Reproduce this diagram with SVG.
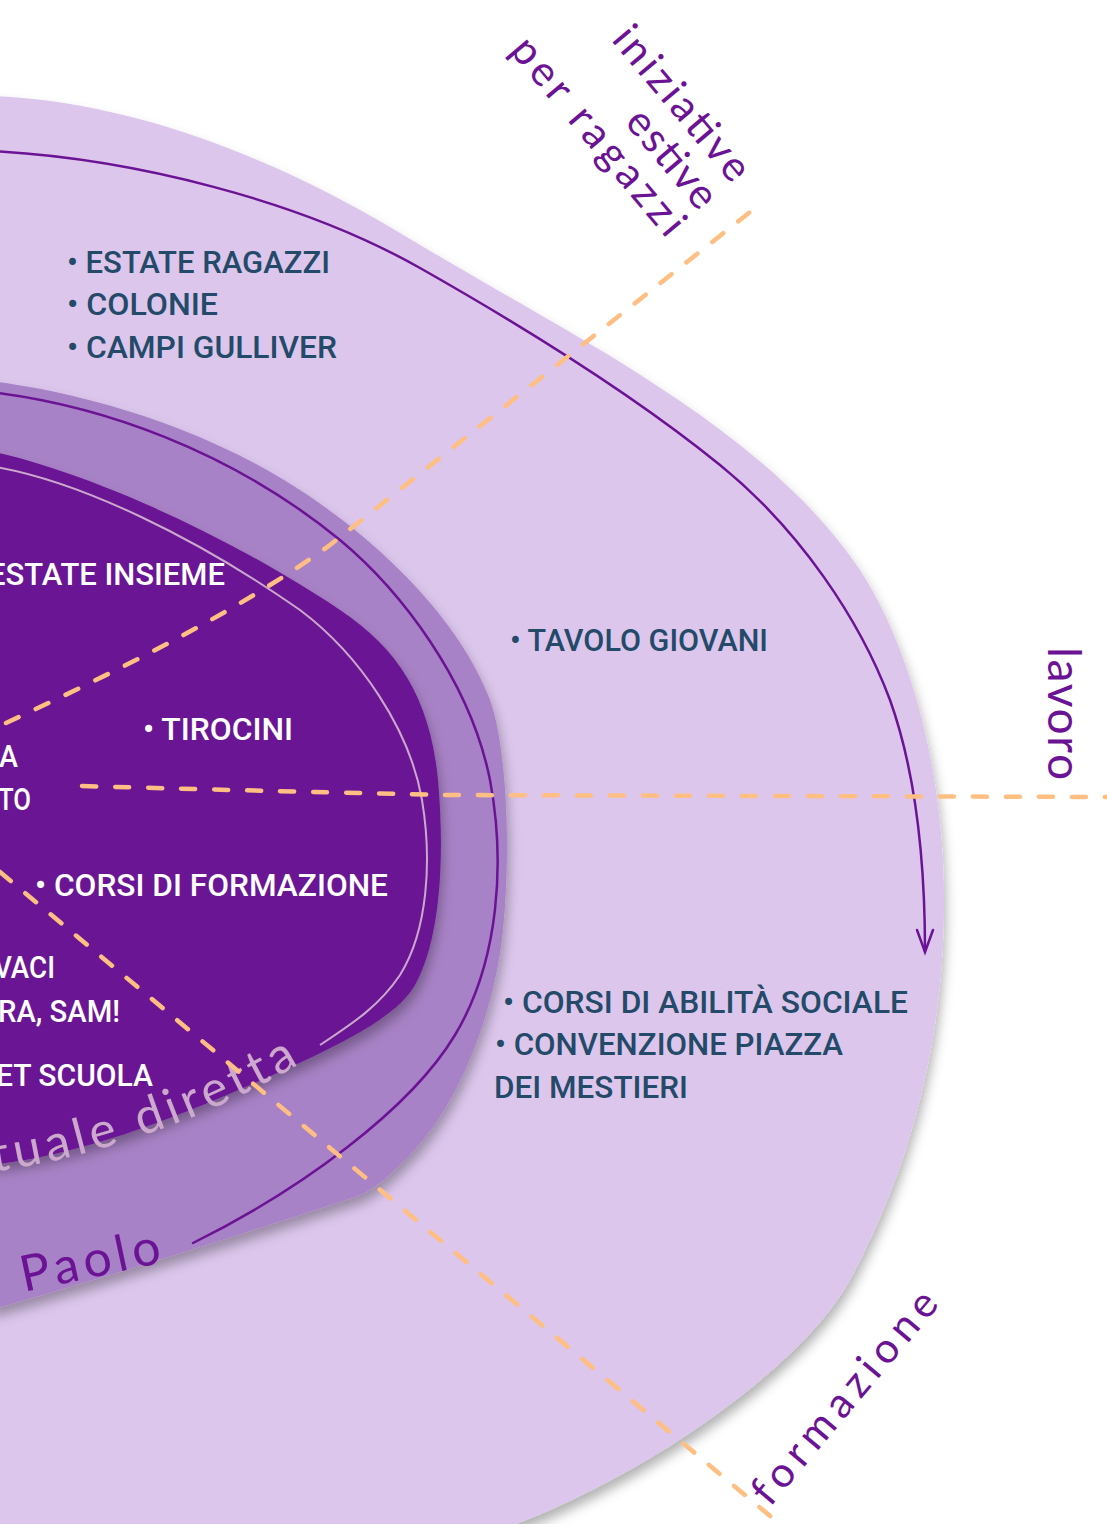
<svg xmlns="http://www.w3.org/2000/svg" width="1107" height="1524" viewBox="0 0 1107 1524">
<defs>
<filter id="sh" x="-20%" y="-20%" width="150%" height="150%">
<feDropShadow dx="2" dy="8" stdDeviation="6" flood-color="#000" flood-opacity="0.3"/>
</filter>
<style>
.light{fill:#DCC6EC}
.mid{fill:#A882C6}
.dark{fill:#6B1394}
.ring{fill:none;stroke:#6B1394;stroke-width:2.5;stroke-linecap:round}
.ringin{fill:none;stroke:#CBA8CC;stroke-width:2}
.dash{fill:none;stroke:#FFBE82;stroke-width:4.5;stroke-linecap:round;stroke-dasharray:14 19}
.item{font-family:Roboto,"Liberation Sans",sans-serif;font-weight:500;font-size:31px;fill:#234A68}
.itemw{font-family:Roboto,"Liberation Sans",sans-serif;font-weight:500;font-size:31px;fill:#FFFFFF}
.lab{font-family:Lato,"Open Sans",sans-serif;font-weight:400;font-size:42px;fill:#6B1394}
</style>
</defs>
<rect width="1107" height="1524" fill="#FFFFFF"/>
<g id="zone-outer">
<path class="light" filter="url(#sh)" d="M -10,96 C 130,100 280,160 400,233 C 480,281 560,325 620,362 C 700,412 800,480 860,570 C 915,655 944,780 944,900 C 944,1020 920,1150 850,1280 C 800,1370 640,1480 500,1530 L -10,1530 Z"/>
<text class="item" x="67" y="273" textLength="263" lengthAdjust="spacingAndGlyphs">• ESTATE RAGAZZI</text>
<text class="item" x="67" y="315" textLength="151" lengthAdjust="spacingAndGlyphs">• COLONIE</text>
<text class="item" x="67" y="358" textLength="270" lengthAdjust="spacingAndGlyphs">• CAMPI GULLIVER</text>
<text class="item" x="510" y="651" textLength="258" lengthAdjust="spacingAndGlyphs">• TAVOLO GIOVANI</text>
<text class="item" x="503" y="1013" textLength="405" lengthAdjust="spacingAndGlyphs">• CORSI DI ABILITÀ SOCIALE</text>
<text class="item" x="495" y="1055" textLength="348" lengthAdjust="spacingAndGlyphs">• CONVENZIONE PIAZZA</text>
<text class="item" x="494" y="1098" textLength="194" lengthAdjust="spacingAndGlyphs">DEI MESTIERI</text>
</g>
<g id="zone-middle">
<path class="mid" filter="url(#sh)" d="M -10,381 C 80,392 200,425 300,490 C 380,542 460,620 490,700 C 505,740 512,840 503,930 C 495,1010 460,1110 400,1165 C 385,1180 370,1192 355,1197 C 300,1215 150,1265 -10,1310 Z"/>
<text class="lab" style="font-size:50px" x="24" y="1292" textLength="142" lengthAdjust="spacing" transform="rotate(-12 24 1292)">Paolo</text>
</g>
<g id="zone-inner">
<path class="dark" filter="url(#sh)" d="M -10,451 C 80,470 220,530 340,610 C 400,650 430,700 438,780 C 445,860 440,940 415,985 C 395,1020 330,1050 250,1085 C 170,1120 80,1155 -10,1165 Z"/>
<path id="tp" d="M -40,1176 C 60,1166 200,1130 330,1045" fill="none"/>
<text font-family="Lato,'Open Sans',sans-serif" font-weight="400" font-size="50" fill="#CBA8CC" letter-spacing="5"><textPath href="#tp" startOffset="34">tuale diretta</textPath></text>
<text class="itemw" x="-12" y="585" textLength="237" lengthAdjust="spacingAndGlyphs">ESTATE INSIEME</text>
<text class="itemw" x="143" y="740" textLength="150" lengthAdjust="spacingAndGlyphs">• TIROCINI</text>
<text class="itemw" x="-1" y="767" textLength="19" lengthAdjust="spacingAndGlyphs">A</text>
<text class="itemw" x="-2" y="810" textLength="33" lengthAdjust="spacingAndGlyphs">TO</text>
<text class="itemw" x="35" y="896" textLength="353" lengthAdjust="spacingAndGlyphs">• CORSI DI FORMAZIONE</text>
<text class="itemw" x="-6" y="978" textLength="61" lengthAdjust="spacingAndGlyphs">VACI</text>
<text class="itemw" x="-2" y="1022" textLength="122" lengthAdjust="spacingAndGlyphs">RA, SAM!</text>
<text class="itemw" x="-4" y="1086" textLength="157" lengthAdjust="spacingAndGlyphs">ET SCUOLA</text>
</g>
<g id="labels">
<g transform="rotate(50)">
<text class="lab" x="612" y="-442" text-anchor="end" textLength="189" lengthAdjust="spacing">iniziative</text>
<text class="lab" x="612" y="-399" text-anchor="end" textLength="117" lengthAdjust="spacing">estive</text>
<text class="lab" x="612" y="-357" text-anchor="end" textLength="246" lengthAdjust="spacing">per ragazzi</text>
</g>
<text class="lab" style="font-size:46px" transform="rotate(90)" x="647" y="-1048" textLength="133" lengthAdjust="spacing">lavoro</text>
<text class="lab" transform="rotate(-50)" x="-660" y="1559" textLength="265" lengthAdjust="spacing">formazione</text>
</g>
<g id="connectors">
<path class="ring" d="M -10,151 C 130,158 300,200 420,268 C 540,336 640,400 720,465 C 800,530 860,620 890,700 C 915,770 925,860 925,951"/>
<polyline class="ring" points="917,930 925,952 933,930" stroke-linejoin="miter"/>
<path class="ring" d="M -10,392 C 100,405 230,450 340,540 C 400,590 470,680 490,780 C 505,860 500,960 455,1035 C 410,1110 300,1190 193,1243"/>
<path class="ringin" d="M -10,466 C 80,480 200,540 300,610 C 360,655 410,730 422,800 C 432,860 428,930 400,975 C 380,1005 355,1022 320,1045"/>
<path class="dash" d="M 6,723 C 120,670 240,610 330,545 L 750,212"/>
<path class="dash" d="M 82,786 Q 300,792 450,795 L 1107,797"/>
<path class="dash" d="M 0,872 L 782,1526"/>
</g>
</svg>
